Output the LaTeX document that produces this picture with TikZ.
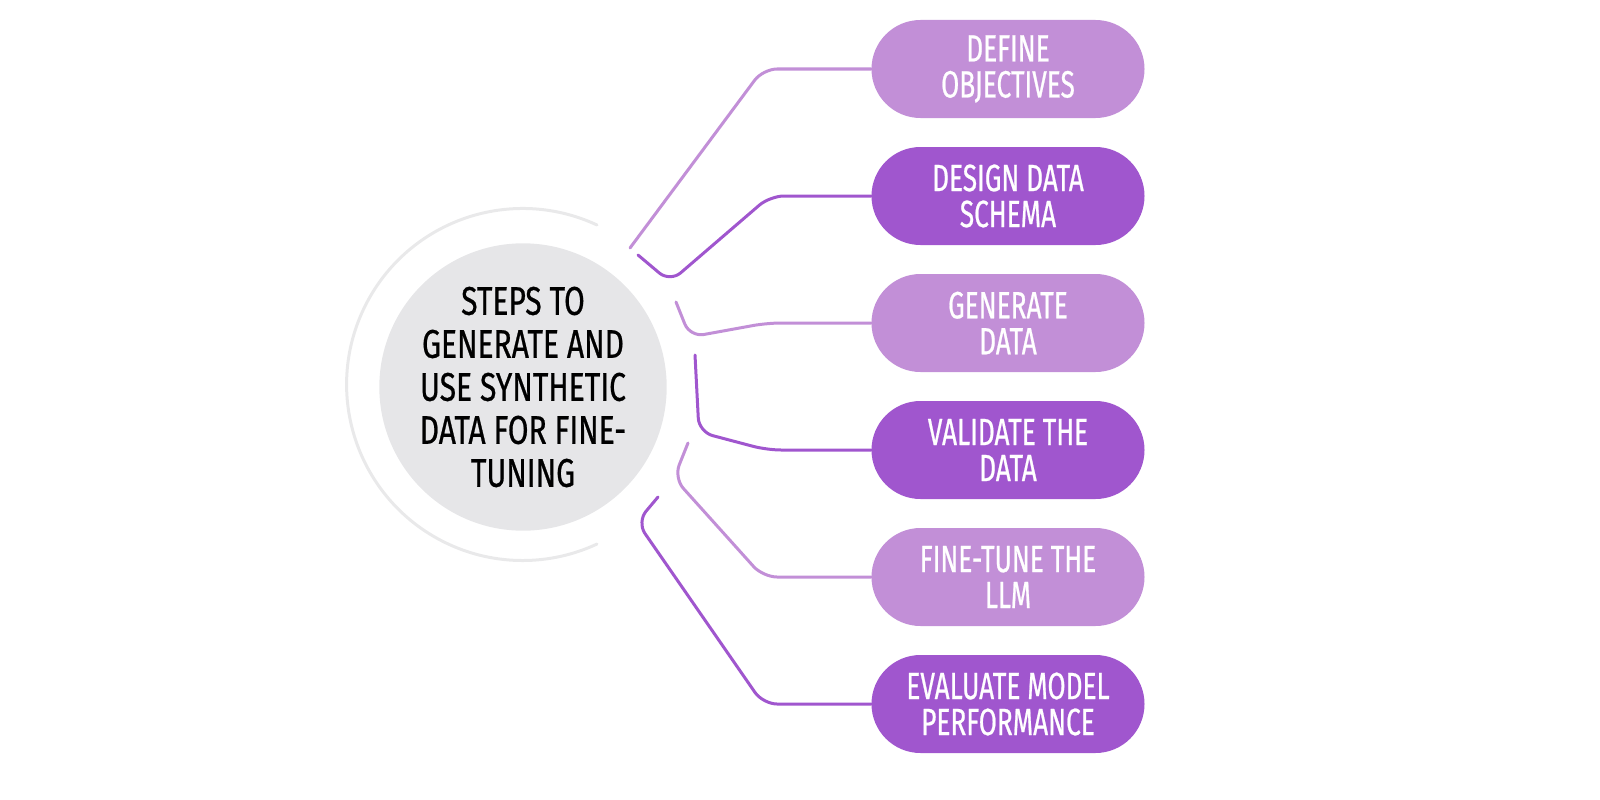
\documentclass[tikz,border=0pt]{standalone}
\usepackage{fontspec}
\newfontfamily\osw[FakeStretch=0.75, FakeBold=0.6]{Fira Sans}
\newfontfamily\oswp[FakeStretch=0.69, FakeBold=0.6]{Fira Sans}
\definecolor{lightp}{HTML}{C28FD7}
\definecolor{darkp}{HTML}{A056CE}
\definecolor{cgray}{HTML}{E6E6E8}
\definecolor{ringc}{HTML}{E9E9EA}
\begin{document}
\begin{tikzpicture}[x=1pt,y=-1pt,
  pill/.style={rectangle, rounded corners=49pt, minimum width=273pt, minimum height=98pt, inner sep=0pt,
    text=white, align=center, font=\oswp\fontsize{38}{36}\selectfont},
  lpill/.style={pill, fill=lightp},
  dpill/.style={pill, fill=darkp},
  hub/.style={circle, fill=cgray, minimum size=284pt, inner sep=0pt, align=center,
    font=\osw\fontsize{40}{43}\selectfont},
  conn/.style={line width=3pt, rounded corners=14pt, line cap=round},
  lconn/.style={conn, draw=lightp},
  dconn/.style={conn, draw=darkp}]
\useasboundingbox (0,0) rectangle (1600,800);
% ring arc
\draw[ringc, line width=3pt, line cap=round] (597,225) arc[start angle=65, end angle=295, radius=176pt];
\node[hub] (c) at (523,387) {STEPS TO\\GENERATE AND\\USE SYNTHETIC\\DATA FOR FINE-\\TUNING};
\node[lpill] (p1) at (1008,69) {DEFINE\\OBJECTIVES};
\node[dpill] (p2) at (1008,196) {DESIGN DATA\\SCHEMA};
\node[lpill] (p3) at (1008,323) {GENERATE\\DATA};
\node[dpill] (p4) at (1008,450) {VALIDATE THE\\DATA};
\node[lpill] (p5) at (1008,577) {FINE-TUNE THE\\LLM};
\node[dpill] (p6) at (1008,704) {EVALUATE MODEL\\PERFORMANCE};
\coordinate (s1) at (630,248);
\coordinate (s2) at (638,255);
\coordinate (s3) at (676,302);
\coordinate (s4) at (695,355);
\coordinate (s5) at (688,443);
\coordinate (s6) at (658,497);
\draw[lconn] (s1) -- (763,69) -- (p1.west);
\draw[dconn] (s2) -- (670,282) -- (770,196) -- (p2.west);
\draw[lconn] (s3) -- (690,337) -- (767,323) -- (p3.west);
\draw[dconn] (s4) -- (699,432) -- (767,450) -- (p4.west);
\draw[lconn] (s5) -- (674,478) -- (763,577) -- (p5.west);
\draw[dconn] (s6) -- (637,522) -- (763,704) -- (p6.west);
\end{tikzpicture}
\end{document}
